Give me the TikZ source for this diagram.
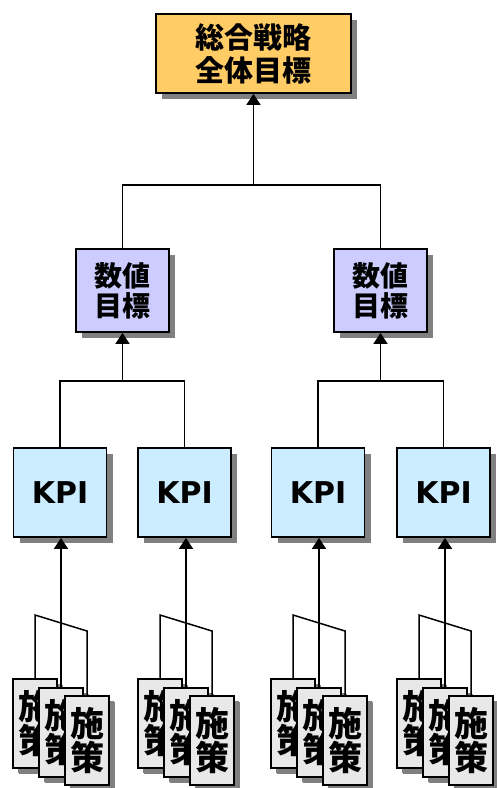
\documentclass[tikz,border=0pt]{standalone}
\usepackage{fontspec}
\newfontfamily\jp{Noto Sans CJK JP}
\newfontfamily\kp{DejaVu Sans}
\usetikzlibrary{arrows.meta,shadows}
\definecolor{topfill}{HTML}{FFCC66}
\definecolor{numfill}{HTML}{CCCCFF}
\definecolor{kpifill}{HTML}{CCECFF}
\definecolor{cardfill}{HTML}{E8E8E8}
\definecolor{shgray}{HTML}{808080}
\begin{document}
\begin{tikzpicture}[x=1pt,y=-1pt,
  box/.style={draw=black, line width=1.8pt, inner sep=0pt, align=center,
    drop shadow={shadow xshift=6pt, shadow yshift=-6pt, fill=shgray, opacity=1}},
  topb/.style={box, fill=topfill, minimum width=195pt, minimum height=79pt,
    font=\jp\bfseries\fontsize{29}{33}\selectfont},
  numb/.style={box, fill=numfill, minimum width=93pt, minimum height=83pt,
    font=\jp\bfseries\fontsize{28}{30}\selectfont},
  kpib/.style={box, fill=kpifill, minimum width=93pt, minimum height=89pt,
    font=\kp\bfseries\fontsize{30}{34}\selectfont},
  card/.style={box, fill=cardfill, minimum width=44pt, minimum height=89pt,
    font=\jp\bfseries\fontsize{34}{34}\selectfont,
    drop shadow={shadow xshift=5pt, shadow yshift=-5pt, fill=shgray, opacity=1}},
  ln/.style={draw=black, line width=1.5pt},
  arr/.style={ln, -{Triangle[width=14pt,length=11pt]}}]
\useasboundingbox (0,0) rectangle (497,788);

% top box
\node[topb] (top) at (253.5,53.5) {総合戦略\\全体目標};

% numeric target boxes
\node[numb] (n1) at (122.5,290.5) {数値\\目標};
\node[numb] (n2) at (380.5,290.5) {数値\\目標};

% KPI boxes
\node[kpib] (k1) at (60,492.5) {KPI};
\node[kpib] (k2) at (184.5,492.5) {KPI};
\node[kpib] (k3) at (318,492.5) {KPI};
\node[kpib] (k4) at (443.5,492.5) {KPI};

% tree connectors
\coordinate (tJ) at (253.5,185);
\draw[ln] (n1.north) |- (tJ) -| (n2.north);
\draw[arr] (tJ) -- (top.south);

\coordinate (mL) at (122.5,381);
\draw[ln] (k1.north) |- (mL) -| (k2.north);
\draw[arr] (mL) -- (n1.south);

\coordinate (mR) at (380.5,381);
\draw[ln] (k3.north) |- (mR) -| (k4.north);
\draw[arr] (mR) -- (n2.south);

% measure cards
\foreach \i/\xv in {1/61,2/186,3/319,4/445} {
  \node[card] (g\i a) at (\xv-26,723.5) {施\\策};
  \node[card] (g\i b) at (\xv,732.5) {施\\策};
  \node[card] (g\i c) at (\xv+26,740.5) {施\\策};
  \coordinate (g\i L) at (\xv-26,615);
  \coordinate (g\i R) at (\xv+26,631);
  \draw[ln] (g\i a.north) -- (g\i L) -- (g\i R) -- (g\i c.north);
  \draw[arr] (g\i b.north) -- (g\i b.north |- k\i.south);
}
\end{tikzpicture}
\end{document}
